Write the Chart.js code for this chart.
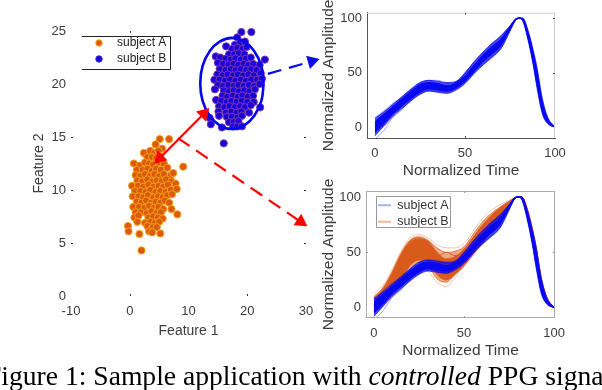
<!DOCTYPE html>
<html><head><meta charset="utf-8">
<script src="https://cdn.jsdelivr.net/npm/chart.js@4"></script>
<style>
html,body{margin:0;padding:0;background:#fff;width:602px;height:390px;overflow:hidden}
canvas{position:absolute;display:block}
#cap{position:absolute;left:-14px;top:360px;white-space:nowrap;font:27.6px "Liberation Serif",serif;color:#000}
</style></head><body>
<canvas id="p2" width="292" height="185" style="left:310px;top:0"></canvas>
<canvas id="p3" width="292" height="190" style="left:310px;top:172px"></canvas>
<canvas id="p1" width="602" height="390" style="left:0;top:0"></canvas>
<div id="cap">Figure 1: Sample application with <i>controlled</i> PPG signals</div>
<script>
const featureXTicks=[-10,0,10,20,30];
const featureYTicks=[0,5,10,15,20,25];
const timeTicks=[0,50,100];
const ampTicks=[0,50,100];
const subjectA=[[5.1,14.8],[6.7,14.8],[4.4,14.3],[5.5,13.9],[2.4,13.5],[3.5,13.7],[4.2,13.5],[4.9,13.7],[3.0,13.1],[3.8,13.1],[4.5,13.0],[5.2,13.2],
[0.7,12.5],[1.7,12.3],[2.6,12.6],[3.3,12.5],[4.0,12.4],[4.9,12.6],[5.8,12.5],[9.1,12.2],[1.2,11.9],[2.2,11.9],[3.0,12.0],[3.8,11.8],[4.5,12.0],[5.3,11.9],[6.4,12.1],
[1.0,11.4],[1.8,11.3],[2.6,11.5],[3.4,11.3],[4.2,11.5],[5.0,11.3],[5.8,11.5],[7.0,11.4],[7.4,11.6],[1.3,10.9],[2.1,10.8],[3.0,11.0],[3.8,10.8],[4.6,10.9],[5.4,10.8],[6.2,11.0],[7.1,10.8],
[0.4,10.4],[1.4,10.4],[2.3,10.3],[3.2,10.5],[4.0,10.3],[4.9,10.4],[5.7,10.3],[6.5,10.5],[7.8,10.6],[0.9,9.9],[1.8,9.9],[2.7,9.8],[3.5,10.0],[4.4,9.8],[5.2,9.9],[6.1,9.8],[7.0,10.0],[8.0,10.1],
[0.5,9.4],[1.5,9.4],[2.3,9.3],[3.1,9.5],[4.0,9.3],[4.8,9.4],[5.6,9.3],[6.4,9.5],[7.2,9.6],[1.2,8.9],[2.0,8.8],[2.8,9.0],[3.6,8.8],[4.4,8.9],[5.2,8.8],[6.0,9.0],[6.7,8.8],
[0.6,8.4],[1.6,8.4],[2.5,8.3],[3.3,8.5],[4.1,8.3],[4.9,8.4],[5.7,8.2],[7.1,8.2],[1.0,7.9],[1.9,7.9],[2.9,7.8],[3.7,8.0],[4.5,7.8],[5.3,7.9],[8.1,7.7],
[0.8,7.4],[1.5,7.6],[3.2,7.4],[4.0,7.5],[4.8,7.4],[5.6,7.3],[1.3,7.0],[2.6,6.9],[3.5,7.0],[4.3,6.9],[5.0,7.0],[3.0,6.6],[3.9,6.5],[4.6,6.5],[-0.3,6.6],[-0.2,6.1],[3.3,6.1],[3.8,6.0],[1.65,5.85],[5.2,5.9],[2.0,4.3]];
const subjectB=[[19.0,24.9],[20.7,24.9],[18.3,24.4],[16.4,23.55],[17.9,23.7],[18.8,23.9],[19.6,24.0],[17.4,23.3],[18.3,23.4],[19.2,23.3],[19.9,23.5],[16.9,22.8],[17.8,22.8],[18.6,22.9],[19.5,22.8],
[14.65,22.6],[15.4,22.5],[16.3,22.4],[17.2,22.3],[18.0,22.4],[18.9,22.3],[19.8,22.4],[20.6,22.5],[23.0,22.3],[15.0,22.0],[15.9,21.9],[16.8,21.8],[17.7,21.9],[18.5,21.8],[19.4,21.9],[20.2,21.8],[21.0,21.9],[22.1,21.8],
[15.3,21.4],[16.3,21.3],[17.2,21.4],[18.0,21.3],[18.9,21.4],[19.8,21.3],[20.7,21.4],[21.6,21.3],[14.9,20.9],[15.8,20.8],[16.7,20.9],[17.6,20.8],[18.4,20.9],[19.3,20.8],[20.2,20.9],[21.1,20.8],[22.3,21.0],
[14.4,20.4],[15.3,20.4],[16.2,20.3],[17.1,20.4],[18.0,20.3],[18.9,20.4],[19.8,20.3],[20.7,20.4],[21.7,20.4],[22.5,20.5],[15.0,19.9],[15.9,19.8],[16.8,19.9],[17.7,19.8],[18.5,19.9],[19.4,19.8],[20.3,19.9],[21.2,19.8],[22.1,20.0],
[14.5,19.5],[16.0,19.4],[16.9,19.3],[17.7,19.4],[18.6,19.3],[19.5,19.4],[20.4,19.3],[21.3,19.5],[15.8,18.9],[16.6,18.8],[17.5,18.9],[18.4,18.8],[19.2,18.9],[20.1,18.8],[21.0,18.9],
[14.7,18.5],[15.6,18.4],[16.5,18.3],[17.3,18.4],[18.2,18.3],[19.1,18.4],[20.0,18.3],[21.1,18.3],[15.2,17.9],[16.1,17.8],[17.0,17.9],[17.9,17.8],[18.8,17.9],[19.6,17.8],[20.6,18.0],[22.2,17.8],
[15.1,17.4],[16.4,17.3],[17.3,17.4],[18.2,17.3],[19.0,17.4],[20.3,17.3],[15.2,17.0],[16.5,16.9],[17.4,16.9],[18.3,16.8],[19.1,17.0],[13.6,16.8],[16.9,16.4],[17.7,16.4],[18.5,16.5],[13.8,16.2],[17.6,16.0],[18.3,16.0],[15.7,15.9],[19.1,16.0],[16.0,14.4]];
const ellipseB=[[22.8,20.05],[22.4,21.7],[21.2,23.1],[19.5,24.0],[17.4,24.35],[15.3,24.0],[13.6,23.1],[12.4,21.7],[12.0,20.05],[12.4,18.4],[13.6,17.0],[15.3,16.1],[17.4,15.75],[19.5,16.1],[21.2,17.0],[22.4,18.4],[22.8,20.05]];
const arrowRedBoth=[[5.1,13.0],[12.6,17.2]];
const arrowRedDash=[[8.2,14.9],[29.1,7.0]];
const arrowBlueDash=[[23.5,20.95],[31.0,22.15]];
const timeGrid=[0,5,10,15,20,25,30,35,40,45,50,55,60,65,70,75,78,80,82,85,88,90,93,96,100];
const blueEdgeHi=[8,14,21,28,35,41,43,42,41,42,50,60,69,77,84,93,99,100,100,89,70,55,26,9,0];
const blueEdgeLo=[-8,1,10,17,24,30,33,32,31,34,40,49,57,64,72,88,98,100,98,80,56,36,12,3,0];
const blueCoreHi=[5,12,19,26,33,39,41,40,38,40,47,57,66,74,81,92,99,100,99,86,66,49,22,7,0];
const blueCoreLo=[-5,3,12,19,26,32,35,34,33,36,42,51,60,67,75,90,98,100,99,83,60,42,15,4,0];
const blueT5=[2,9,17,24,31,37,39,38,37,39,46,56,65,72,79,91,99,100,99,85,64,46,19,6,0];
const blueT6=[-2,6,14,21,28,34,37,36,35,37,44,53,62,70,77,91,98,100,99,84,62,44,17,5,0];
const blueT7=[0,7,15,22,29,36,38,39,36,38,45,54,64,71,78,92,99,100,100,87,67,50,21,6,0];
const blueT8=[3,10,16,23,31,35,40,36,37,41,47,55,63,73,80,90,98,100,98,82,58,39,14,4,0];
const blueT9=[-3,5,13,22,27,35,36,37,34,38,43,55,61,71,76,91,99,100,99,84,63,47,20,5,0];
const blueT10=[1,8,18,25,30,38,37,35,38,37,46,52,64,69,79,92,98,100,99,85,61,43,16,6,0];
const blueT11=[-11,-3,9,16,25,31,34,33,32,35,41,50,58,65,73,89,98,100,99,83,60,41,15,4,0];
const blueT12=[9,15,22,27,34,40,43,43,40,41,49,59,68,76,83,93,99,100,100,88,68,52,24,8,0];
const orangeT1=[13,20,34,51,63,66,63,57,54,54,58,69,80,88,93,97,99,100,100,91,72,56,27,10,0];
const orangeT2=[10,18,32,49,61,64,61,54,50,51,55,66,77,85,91,96,99,100,100,90,71,55,26,9,0];
const orangeCoreHi=[6,16,30,47,59,62,60,50,44,46,52,63,74,83,90,95,99,100,100,89,69,53,24,8,0];
const orangeT4=[3,12,26,41,54,58,55,45,38,40,47,59,70,79,86,94,99,100,100,88,67,51,23,8,0];
const orangeT5=[1,9,21,35,47,52,49,38,32,36,44,55,66,75,84,93,99,100,100,87,66,49,22,7,0];
const orangeCoreLo=[-2,6,15,25,38,43,42,30,25,30,38,48,58,68,79,92,98,100,99,86,64,47,20,6,0];
const orangeT7=[-4,4,12,23,34,41,38,26,23,30,39,49,60,70,79,91,98,100,99,85,63,46,19,6,0];
const orangeT8=[-6,2,10,20,30,38,33,23,19,27,37,47,58,68,77,90,98,100,99,85,62,45,18,5,0];
const orangeT9=[8,17,31,48,60,63,57,46,50,47,53,63,74,80,90,96,99,100,100,89,70,54,25,9,0];
const orangeT10=[0,7,22,32,47,52,50,34,30,38,42,55,66,76,85,93,99,100,100,87,65,48,21,7,0];

const SANS='"Liberation Sans",Arial,sans-serif', TXT='#3c3c3c';
const toXY=a=>a.map(p=>({x:p[0],y:p[1]}));
const onGrid=a=>a.map((v,i)=>({x:timeGrid[i],y:v}));
const fixTicks=list=>s=>{s.ticks=list.map(v=>({value:v}))};

const marks={id:'marks',afterDraw(c,_,o){
  const g=c.ctx,a=c.chartArea,x=c.scales.x,y=c.scales.y;
  g.save();
  if(o.frame){g.strokeStyle=o.frame;g.lineWidth=1;g.beginPath();
    (o.sides||['l','r','t','b']).forEach(s=>{
      if(s=='l'){g.moveTo(a.left+.5,a.top);g.lineTo(a.left+.5,a.bottom)}
      if(s=='r'){g.moveTo(a.right-.5,a.top);g.lineTo(a.right-.5,a.bottom)}
      if(s=='t'){g.moveTo(a.left,a.top+.5);g.lineTo(a.right,a.top+.5)}
      if(s=='b'){g.moveTo(a.left,a.bottom-.5);g.lineTo(a.right,a.bottom-.5)}
    });g.stroke()}
  g.strokeStyle=o.tick||'#333';g.lineWidth=1;g.beginPath();
  (o.xb||[]).forEach(v=>{const p=Math.round(x.getPixelForValue(v))+.5;g.moveTo(p,a.bottom);g.lineTo(p,a.bottom-2)});
  (o.xt||[]).forEach(v=>{const p=Math.round(x.getPixelForValue(v))+.5;g.moveTo(p,a.top);g.lineTo(p,a.top+2)});
  (o.yl||[]).forEach(v=>{const p=Math.round(y.getPixelForValue(v))+.5;g.moveTo(a.left,p);g.lineTo(a.left+2,p)});
  (o.yr||[]).forEach(v=>{const p=Math.round(y.getPixelForValue(v))+.5;g.moveTo(a.right,p);g.lineTo(a.right-2,p)});
  g.stroke();
  const b=o.box;
  if(b){g.strokeStyle=b.color;g.lineWidth=1;g.beginPath();
    if(b.open){g.moveTo(b.x,b.y+.5);g.lineTo(b.x+b.w+.5,b.y+.5);g.lineTo(b.x+b.w+.5,b.y+b.h+.5);g.lineTo(b.x,b.y+b.h+.5)}
    else g.rect(b.x+.5,b.y+.5,b.w,b.h);
    g.stroke()}
  g.restore();
},afterLayout(c,_,o){
  const l=c.legend,p=o.legendAt;
  if(l&&p){const w=l.width,h=l.height;l.left=p.x;l.top=p.y;l.right=p.x+w;l.bottom=p.y+h}
}};
Chart.register(marks);

function axis(title,list,min,max,pos,size,pad,tpad,tsize,border){
  const t={display:true,text:title,color:TXT,font:{family:SANS,size:tsize},padding:tpad};
  return {type:'linear',min,max,position:pos,title:t,
    grid:{display:false,drawTicks:false},
    border:border?{display:true,color:border}:{display:false},
    ticks:{color:TXT,font:{family:SANS,size:13},padding:pad,autoSkip:false,maxRotation:0,callback:v=>String(v)},
    afterBuildTicks:fixTicks(list),
    afterFit:s=>{if(pos=='left')s.width=size;else s.height=size}};
}

const arrow=(pts,color,dash,radii,rots)=>({type:'line',data:toXY(pts),showLine:true,borderColor:color,backgroundColor:color,borderWidth:2.2,borderDash:dash,pointRadius:radii,pointRotation:rots,pointStyle:'triangle',pointBorderWidth:0,clip:false,order:0,tension:0});

function legendDot(fill,edge){
  const k=document.createElement('canvas');k.width=24;k.height=8;
  const g=k.getContext('2d');g.fillStyle=fill;g.strokeStyle=edge;g.lineWidth=1;
  g.beginPath();g.arc(12,4,3.2,0,Math.PI*2);g.fill();g.stroke();
  return k;
}
const dotStyles={'subject A':legendDot('#dc5a10','#f0a012'),'subject B':legendDot('#1a00d8','#3a20c8')};

new Chart(document.getElementById('p1'),{type:'scatter',
 data:{datasets:[
  arrow(arrowRedBoth,'#ff0000',[],[8,8],[225,45]),
  arrow(arrowRedDash,'#ff0000',[14,8],[0,8],[0,124]),
  arrow(arrowBlueDash,'#0a0aee',[14,8],[0,8],[0,74]),
  {type:'line',data:toXY(ellipseB),showLine:true,borderColor:'#0505ee',borderWidth:2.6,pointRadius:0,tension:.4,clip:false,order:1,fill:false},
  {label:'subject B',data:toXY(subjectB),backgroundColor:'#1a00d8',borderColor:'#7a38a8',borderWidth:1,pointRadius:3.6,order:2,clip:false},
  {label:'subject A',data:toXY(subjectA),backgroundColor:'#dc5a10',borderColor:'#f0a012',borderWidth:1,pointRadius:3.6,order:3,clip:false}
 ]},
 options:{responsive:false,animation:false,events:[],
  layout:{autoPadding:false,padding:{left:0,right:296,top:31,bottom:44}},
  scales:{x:axis('Feature 1',featureXTicks,-10,30,'bottom',50,8,{top:0,bottom:6},14,null),
          y:axis('Feature 2',featureYTicks,0,25,'left',71,5,{top:31,bottom:0},14,null)},
  plugins:{tooltip:{enabled:false},
   legend:{display:true,position:'chartArea',align:'start',
    labels:{filter:i=>!!i.text,sort:(a,b)=>a.text<b.text?-1:1,usePointStyle:true,boxHeight:8,pointStyleWidth:24,padding:4,color:'#222',font:{family:SANS,size:12},
     generateLabels(c){return Chart.defaults.plugins.legend.labels.generateLabels(c).map(l=>Object.assign(l,{pointStyle:dotStyles[l.text]||'circle'}))}}},
   marks:{tick:'#333',xb:[0,20],xt:[0],yl:[5,10,15],yr:[5,10,15],legendAt:{x:83,y:33},box:{color:'#222',open:true,x:82,y:36,w:88,h:33}}}}
});

const MONO={cubicInterpolationMode:'monotone'};
function traceSet(list,color,width){return list.map(a=>({data:onGrid(a),borderColor:color,borderWidth:width,pointRadius:0,fill:false,...MONO}))}
function band(hi,lo,color,label,legendColor){return [
  {label,data:onGrid(hi),borderColor:color,backgroundColor:legendColor||color,borderWidth:1,pointRadius:0,fill:{target:'+1',above:color,below:color},...MONO},
  {data:onGrid(lo),borderColor:color,borderWidth:1,pointRadius:0,fill:false,...MONO}]}

const blueThin=[blueT11,blueT12];
const blueMid=[blueT5,blueT6,blueT7,blueT8,blueT9,blueT10];
function blueSets(label,lg){return [...band(blueCoreHi,blueCoreLo,'#0808f0',label,lg),...traceSet(blueMid,'#0808f0',1),...band(blueEdgeHi,blueEdgeLo,'rgba(8,8,240,.72)'),...traceSet(blueThin,'rgba(20,20,240,.55)',.7)]}
function lineOpts(cfg){return {responsive:false,animation:false,events:[],
  layout:{autoPadding:false,padding:cfg.pad},
  scales:{x:axis('Normalized Time',timeTicks,cfg.xr[0],cfg.xr[1],'bottom',42,8,{top:0,bottom:0},15.5,cfg.border),
          y:axis('Normalized Amplitude',ampTicks,cfg.yr[0],cfg.yr[1],'left',cfg.yw,5,{top:9,bottom:0},15.5,cfg.border)},
  plugins:{tooltip:{enabled:false},legend:cfg.legend,marks:cfg.marks}}}

new Chart(document.getElementById('p2'),{type:'line',
 data:{datasets:blueSets()},
 options:lineOpts({pad:{left:0,right:47,top:11,bottom:5},xr:[-4.4,100],yr:[-10,105],yw:57,border:'#555',
  legend:{display:false},marks:{tick:'#555',frame:'#ccc',sides:['r','t'],xt:[50],xb:[50],yr:[50,100]}})
});

const orangeThin=[orangeT1,orangeT2,orangeT8,orangeT7];
new Chart(document.getElementById('p3'),{type:'line',
 data:{datasets:[...blueSets('subject A','#aab0ee'),
  ...traceSet([orangeT4,orangeT5,orangeT10,orangeT9],'#d95b1c',1),
  ...band(orangeCoreHi,orangeCoreLo,'#d95b1c','subject B','#f0b898'),
  ...band(orangeT2,orangeT7,'rgba(224,112,50,.6)'),
  ...traceSet(orangeThin,'rgba(220,110,50,.55)',.7)]},
 options:lineOpts({pad:{left:0,right:47,top:19,bottom:2},xr:[-4.4,100.5],yr:[-9.4,105.4],yw:56,border:null,
  legend:{display:true,position:'chartArea',align:'start',labels:{filter:i=>!!i.text,boxWidth:13,boxHeight:2,padding:4,color:'#333',font:{family:SANS,size:12.5},
    generateLabels(c){return Chart.defaults.plugins.legend.labels.generateLabels(c).map(l=>Object.assign(l,{strokeStyle:l.fillStyle,lineWidth:0}))}}},
  marks:{tick:'#999',frame:'#aaa',xb:[50],xt:[50],yl:[50],yr:[50],legendAt:{x:64,y:23},box:{color:'#999',x:66,y:24,w:74,h:31}}})
});
</script>
</body></html>
